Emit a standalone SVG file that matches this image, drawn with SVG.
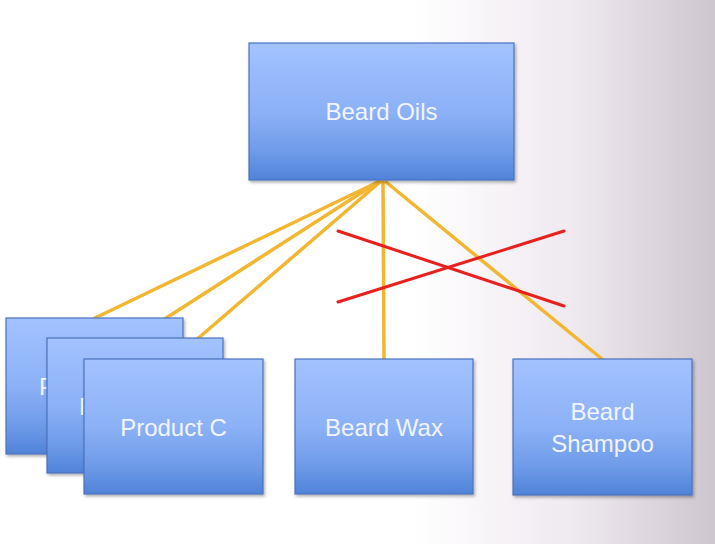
<svg xmlns="http://www.w3.org/2000/svg" width="715" height="544" viewBox="0 0 715 544">
  <defs>
    <linearGradient id="bg" x1="0" y1="0" x2="1" y2="0">
      <stop offset="0" stop-color="#ffffff"/>
      <stop offset="0.58" stop-color="#ffffff"/>
      <stop offset="0.8" stop-color="#efe9f0"/>
      <stop offset="1" stop-color="#cdc6ce"/>
    </linearGradient>
    <linearGradient id="box" x1="0" y1="0" x2="0" y2="1">
      <stop offset="0" stop-color="#a3c2ff"/>
      <stop offset="0.5" stop-color="#8cb1f6"/>
      <stop offset="0.8" stop-color="#6d9ae8"/>
      <stop offset="1" stop-color="#4f83d8"/>
    </linearGradient>
    <filter id="sh" x="-10%" y="-10%" width="125%" height="125%">
      <feDropShadow dx="1.5" dy="2" stdDeviation="1.5" flood-color="#000" flood-opacity="0.3"/>
    </filter>
  </defs>
  <style>
    .box { fill: url(#box); stroke: #4b72bd; stroke-width: 1.2; filter: url(#sh); }
    .lbl { font-family: "Liberation Sans", Arial, sans-serif; font-size: 24px; fill: #f2f5ff; text-anchor: middle; }
    .part { text-anchor: start; }
    .link { stroke: #f2b630; stroke-width: 3.5; fill: none; stroke-linecap: round; }
    .cross { stroke: #e8201e; stroke-width: 3; fill: none; stroke-linecap: round; }
  </style>
  <rect width="715" height="544" fill="url(#bg)"/>

  <g id="connectors">
    <line class="link" x1="378" y1="182" x2="95" y2="318"/>
    <line class="link" x1="378" y1="182" x2="135" y2="338"/>
    <line class="link" x1="380" y1="182" x2="174" y2="359"/>
    <line class="link" x1="383" y1="182" x2="384" y2="359"/>
    <line class="link" x1="386" y1="182" x2="602" y2="359"/>
    <line class="cross" x1="338" y1="231" x2="564" y2="306"/>
    <line class="cross" x1="338" y1="302" x2="564" y2="231"/>
  </g>

  <g id="beard-oils">
    <rect class="box" x="249" y="43" width="265" height="137"/>
    <text class="lbl" x="381.5" y="120">Beard Oils</text>
  </g>
  <g id="product-a">
    <rect class="box" x="6" y="318" width="177" height="136"/>
    <text class="lbl part" x="39" y="395">P</text>
  </g>
  <g id="product-b">
    <rect class="box" x="47" y="338" width="176" height="135"/>
    <text class="lbl part" x="79" y="415">P</text>
  </g>
  <g id="product-c">
    <rect class="box" x="84" y="359" width="179" height="135"/>
    <text class="lbl" x="173.5" y="436">Product C</text>
  </g>
  <g id="beard-wax">
    <rect class="box" x="295" y="359" width="178" height="135"/>
    <text class="lbl" x="384" y="436">Beard Wax</text>
  </g>
  <g id="beard-shampoo">
    <rect class="box" x="513" y="359" width="179" height="136"/>
    <text class="lbl" x="602.5" y="420">Beard</text>
    <text class="lbl" x="602.5" y="452">Shampoo</text>
  </g>
</svg>
